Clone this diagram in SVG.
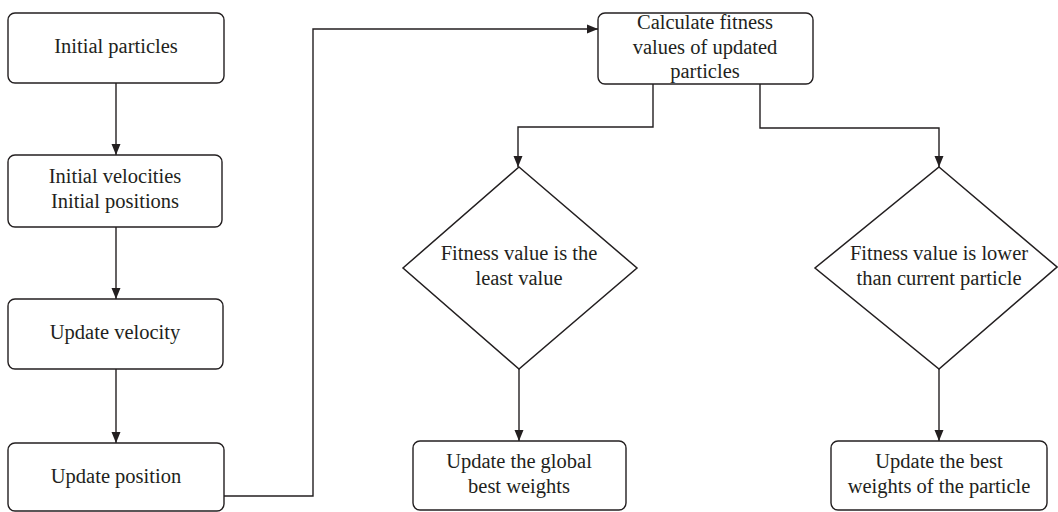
<svg xmlns="http://www.w3.org/2000/svg" width="1058" height="512" viewBox="0 0 1058 512">
  <defs>
    <style>
      .box { fill: #ffffff; stroke: #231f20; stroke-width: 1.4; }
      .dia { fill: #ffffff; stroke: #231f20; stroke-width: 1.5; }
      .conn { fill: none; stroke: #231f20; stroke-width: 1.4; }
      .t { font-family: "Liberation Serif", "Times New Roman", serif; font-size: 20.5px; fill: #231f20; text-anchor: middle; }
    </style>
    <marker id="arrow" markerUnits="userSpaceOnUse" markerWidth="12" markerHeight="10" refX="11" refY="5" orient="auto">
      <path d="M0,0.5 L11,5 L0,9.5 z" fill="#231f20"/>
    </marker>
  </defs>
  <rect width="1058" height="512" fill="#ffffff"/>

  <g id="connectors">
    <path class="conn" d="M116,83 L116,155" marker-end="url(#arrow)"/>
    <path class="conn" d="M116,227 L116,299" marker-end="url(#arrow)"/>
    <path class="conn" d="M116,369 L116,443" marker-end="url(#arrow)"/>
    <path class="conn" d="M224,496 L313,496 L313,29 L598,29" marker-end="url(#arrow)"/>
    <path class="conn" d="M653,84 L653,127 L518,127 L518,167" marker-end="url(#arrow)"/>
    <path class="conn" d="M760,84 L760,128 L939,128 L939,167" marker-end="url(#arrow)"/>
    <path class="conn" d="M519,369 L519,441" marker-end="url(#arrow)"/>
    <path class="conn" d="M939,369 L939,441" marker-end="url(#arrow)"/>
  </g>

  <g id="n1">
    <rect class="box" x="8" y="13" width="216" height="70" rx="7"/>
    <text class="t" x="116" y="53">Initial particles</text>
  </g>
  <g id="n2">
    <rect class="box" x="8" y="155" width="214" height="72" rx="7"/>
    <text class="t" x="115" y="183">Initial velocities</text>
    <text class="t" x="115" y="208">Initial positions</text>
  </g>
  <g id="n3">
    <rect class="box" x="8" y="299" width="215" height="70" rx="7"/>
    <text class="t" x="115" y="339">Update velocity</text>
  </g>
  <g id="n4">
    <rect class="box" x="8" y="443" width="216" height="68" rx="7"/>
    <text class="t" x="116" y="483">Update position</text>
  </g>
  <g id="n5">
    <rect class="box" x="598" y="13" width="215" height="71" rx="7"/>
    <text class="t" x="705" y="29">Calculate fitness</text>
    <text class="t" x="705" y="54">values of updated</text>
    <text class="t" x="705" y="78">particles</text>
  </g>
  <g id="d1">
    <polygon class="dia" points="519,167 637,268 519,369 403,268"/>
    <text class="t" x="519" y="260">Fitness value is the</text>
    <text class="t" x="519" y="285">least value</text>
  </g>
  <g id="d2">
    <polygon class="dia" points="939,167 1057,267 939,369 815,268"/>
    <text class="t" x="939" y="260">Fitness value is lower</text>
    <text class="t" x="939" y="285">than current particle</text>
  </g>
  <g id="n6">
    <rect class="box" x="413" y="441" width="213" height="69" rx="7"/>
    <text class="t" x="519" y="468">Update the global</text>
    <text class="t" x="519" y="493">best weights</text>
  </g>
  <g id="n7">
    <rect class="box" x="831" y="441" width="216" height="69" rx="7"/>
    <text class="t" x="939" y="468">Update the best</text>
    <text class="t" x="939" y="493">weights of the particle</text>
  </g>
</svg>
